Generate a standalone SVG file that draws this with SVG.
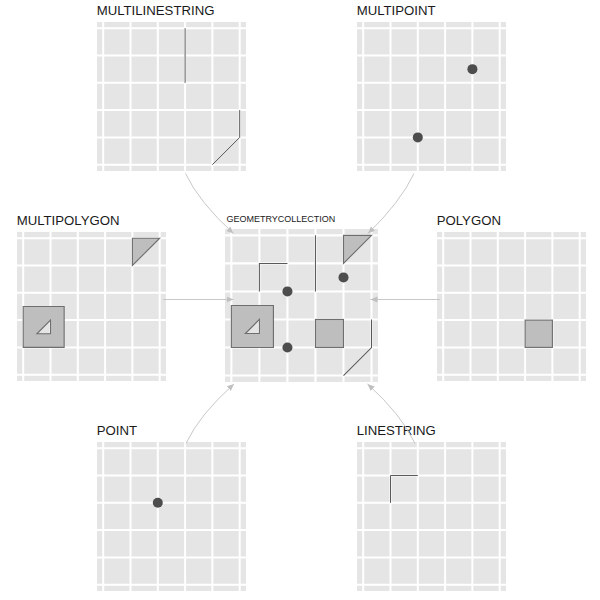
<svg xmlns="http://www.w3.org/2000/svg" xmlns:xlink="http://www.w3.org/1999/xlink" width="600" height="600" viewBox="0 0 600 600">
<style>
.lbl{font-family:"Liberation Sans",Arial,sans-serif;font-size:13.2px;fill:#1a1a1a}
.lbls{font-family:"Liberation Sans",Arial,sans-serif;font-size:9px;fill:#1a1a1a}
.ln{fill:none;stroke:#595959;stroke-width:1}
.poly{fill:#bebebe;stroke:#6e6e6e;stroke-width:1.1;fill-rule:evenodd}
.pt{fill:#4d4d4d}
.edge{fill:none;stroke:#c8c8c8;stroke-width:1}
</style>
<defs>
<g id="grid">
<rect x="0" y="0" width="149" height="149" fill="#e5e5e5"/>
<g stroke="#ffffff" stroke-width="2">
<line x1="6.2" y1="0" x2="6.2" y2="149"/>
<line x1="33.5" y1="0" x2="33.5" y2="149"/>
<line x1="60.8" y1="0" x2="60.8" y2="149"/>
<line x1="88.1" y1="0" x2="88.1" y2="149"/>
<line x1="115.4" y1="0" x2="115.4" y2="149"/>
<line x1="142.7" y1="0" x2="142.7" y2="149"/>
<line x1="0" y1="6.2" x2="149" y2="6.2"/>
<line x1="0" y1="33.5" x2="149" y2="33.5"/>
<line x1="0" y1="60.8" x2="149" y2="60.8"/>
<line x1="0" y1="88.1" x2="149" y2="88.1"/>
<line x1="0" y1="115.4" x2="149" y2="115.4"/>
<line x1="0" y1="142.7" x2="149" y2="142.7"/>
</g>
</g>
<marker id="arr" markerUnits="userSpaceOnUse" markerWidth="8" markerHeight="7" refX="7" refY="3" orient="auto">
<path d="M0,0 L7,3 L0,6 z" fill="#c0c0c0"/>
</marker>
</defs>

<g id="multilinestring">
<text class="lbl" x="96.7" y="15">MULTILINESTRING</text>
<g transform="translate(97,22)">
<use xlink:href="#grid" href="#grid"/>
<path class="ln" d="M88.1,6.2 V60.8"/>
<path class="ln" d="M115.4,142.7 L142.7,115.4 V88.1"/>
</g>
</g>

<g id="multipoint">
<text class="lbl" x="356.7" y="15">MULTIPOINT</text>
<g transform="translate(357,22)">
<use xlink:href="#grid" href="#grid"/>
<circle class="pt" cx="115.4" cy="47.15" r="5"/>
<circle class="pt" cx="60.8" cy="115.4" r="5"/>
</g>
</g>

<g id="multipolygon">
<text class="lbl" x="16.7" y="225">MULTIPOLYGON</text>
<g transform="translate(17,232)">
<use xlink:href="#grid" href="#grid"/>
<path class="poly" d="M6.2,74.45 H47.15 V115.4 H6.2 Z M19.85,101.75 L33.5,101.75 L33.5,88.1 Z"/>
<path class="poly" d="M115.4,6.2 L142.7,6.2 L115.4,33.5 Z"/>
</g>
</g>

<g id="geometrycollection">
<text class="lbls" x="226.5" y="222">GEOMETRYCOLLECTION</text>
<g transform="translate(225,229) scale(1.0268)">
<use xlink:href="#grid" href="#grid"/>
<path class="poly" d="M6.2,74.45 H47.15 V115.4 H6.2 Z M19.85,101.75 L33.5,101.75 L33.5,88.1 Z"/>
<path class="poly" d="M115.4,6.2 L142.7,6.2 L115.4,33.5 Z"/>
<rect class="poly" x="88.1" y="88.1" width="27.3" height="27.3"/>
<path class="ln" d="M33.5,60.8 V33.5 H60.8"/>
<path class="ln" d="M88.1,6.2 V60.8"/>
<path class="ln" d="M115.4,142.7 L142.7,115.4 V88.1"/>
<circle class="pt" cx="60.8" cy="60.8" r="4.9"/>
<circle class="pt" cx="60.8" cy="115.4" r="4.9"/>
<circle class="pt" cx="115.4" cy="47.15" r="4.9"/>
</g>
</g>

<g id="polygon">
<text class="lbl" x="436.7" y="225">POLYGON</text>
<g transform="translate(437,232)">
<use xlink:href="#grid" href="#grid"/>
<rect class="poly" x="88.1" y="88.1" width="27.3" height="27.3"/>
</g>
</g>

<g id="point">
<text class="lbl" x="96.7" y="435">POINT</text>
<g transform="translate(97,442)">
<use xlink:href="#grid" href="#grid"/>
<circle class="pt" cx="60.8" cy="60.8" r="5"/>
</g>
</g>

<g id="linestring">
<text class="lbl" x="356.7" y="435">LINESTRING</text>
<g transform="translate(357,442)">
<use xlink:href="#grid" href="#grid"/>
<path class="ln" d="M33.5,60.8 V33.5 H60.8"/>
</g>
</g>

<g id="connectors">
<path class="edge" marker-end="url(#arr)" d="M185.5,173.5 Q199,202 233.5,233.5"/>
<path class="edge" marker-end="url(#arr)" d="M414,173.5 Q400.5,202 368,233.5"/>
<path class="edge" marker-end="url(#arr)" d="M163,299.5 L233.5,299.5"/>
<path class="edge" marker-end="url(#arr)" d="M440,299.5 L370.5,299.5"/>
<path class="edge" marker-end="url(#arr)" d="M186,443.5 Q199.5,414.5 234,384"/>
<path class="edge" marker-end="url(#arr)" d="M415,443.5 Q401.5,414.5 367.5,384"/>
</g>
</svg>
